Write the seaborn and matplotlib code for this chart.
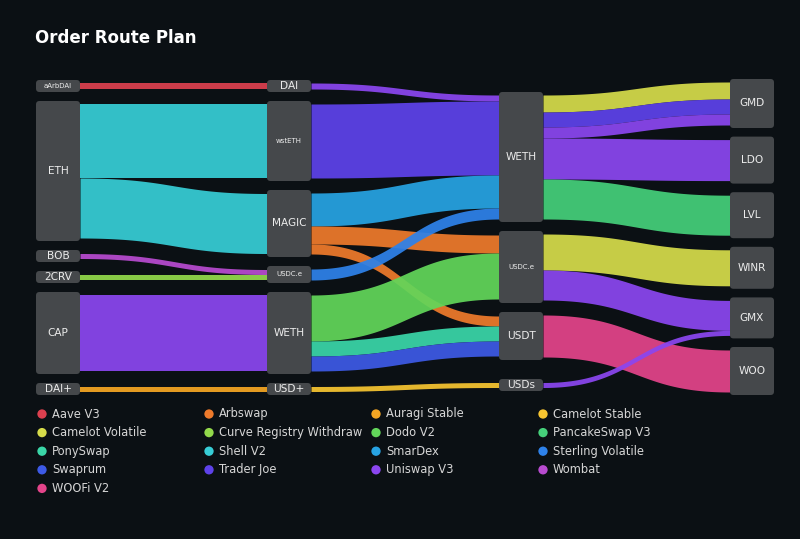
import numpy as np
import matplotlib.pyplot as plt
import seaborn as sns
from matplotlib.patches import FancyBboxPatch

# token nodes, one list per column (left to right)
col0_nodes = ['aArbDAI', 'ETH', 'BOB', '2CRV', 'CAP', 'DAI+']
col1_nodes = ['DAI', 'wstETH', 'MAGIC', 'USDC.e', 'WETH', 'USD+']
col2_nodes = ['WETH', 'USDC.e', 'USDT', 'USDs']
col3_nodes = ['GMD', 'LDO', 'LVL', 'WINR', 'GMX', 'WOO']

# route legs: column of the source, source token, target token (next column), size, dex
link_col = [0, 0, 0, 0, 0, 0, 0,
            1, 1, 1, 1, 1, 1, 1, 1, 1, 1,
            2, 2, 2, 2, 2, 2, 2, 2, 2]
link_src = ['aArbDAI', 'ETH', 'ETH', 'BOB', '2CRV', 'CAP', 'DAI+',
            'DAI', 'wstETH', 'MAGIC', 'MAGIC', 'MAGIC', 'USDC.e', 'WETH', 'WETH', 'WETH', 'USD+',
            'WETH', 'WETH', 'WETH', 'WETH', 'WETH', 'USDC.e', 'USDC.e', 'USDT', 'USDs']
link_dst = ['DAI', 'wstETH', 'MAGIC', 'USDC.e', 'USDC.e', 'WETH', 'USD+',
            'WETH', 'WETH', 'WETH', 'USDC.e', 'USDT', 'WETH', 'USDC.e', 'USDT', 'USDT', 'USDs',
            'GMD', 'GMD', 'GMD', 'LDO', 'LVL', 'WINR', 'GMX', 'WOO', 'GMX']
link_val = [6, 74, 60, 5, 5, 76, 5,
            6, 74, 33, 18, 10, 11, 46, 15, 15, 5,
            17, 15, 11, 41, 40, 36, 30, 42, 5]
link_dex = ['Aave V3', 'Shell V2', 'Shell V2', 'Wombat', 'Curve Registry Withdraw', 'Uniswap V3', 'Auragi Stable',
            'Uniswap V3', 'Trader Joe', 'SmarDex', 'Arbswap', 'Arbswap', 'Sterling Volatile', 'Dodo V2',
            'PonySwap', 'Swaprum', 'Camelot Stable',
            'Camelot Volatile', 'Trader Joe', 'Uniswap V3', 'Uniswap V3', 'PancakeSwap V3',
            'Camelot Volatile', 'Uniswap V3', 'WOOFi V2', 'Uniswap V3']

dex_names = ['Aave V3', 'Arbswap', 'Auragi Stable', 'Camelot Stable',
             'Camelot Volatile', 'Curve Registry Withdraw', 'Dodo V2', 'PancakeSwap V3',
             'PonySwap', 'Shell V2', 'SmarDex', 'Sterling Volatile',
             'Swaprum', 'Trader Joe', 'Uniswap V3', 'Wombat',
             'WOOFi V2']
dex_colors = ['#dc404f', '#ee7a2b', '#f5a623', '#f7c531',
              '#d6dc4a', '#93d94b', '#62d65a', '#45d07a',
              '#3ad6a8', '#37cdd6', '#27a3e3', '#2e82ea',
              '#3d5ae6', '#5e42ea', '#8b46f0', '#b84bd0',
              '#e4448a']

bg = '#0b1014'
node_color = '#45484b'
text_color = '#ececec'

sns.set_theme(style='dark', rc={'axes.facecolor': bg, 'figure.facecolor': bg})
plt.rcParams['font.family'] = ['DejaVu Sans']

# layout
cols = [col0_nodes, col1_nodes, col2_nodes, col3_nodes]
col_x = [36, 267, 499, 730]
node_w = 44
col_top = [80, 80, 92, 79]
col_bottom = [395, 395, 391, 395]
col_gap = [None, None, 9, None]   # None -> spread nodes over the column
pad = 3
min_h = 12
dex_color = dict(zip(dex_names, dex_colors))

flow_in, flow_out = {}, {}
for c, s, d, v in zip(link_col, link_src, link_dst, link_val):
    flow_out[(c, s)] = flow_out.get((c, s), 0) + v
    flow_in[(c + 1, d)] = flow_in.get((c + 1, d), 0) + v

node_y, node_h = {}, {}
for c, names in enumerate(cols):
    hs = [max(max(flow_in.get((c, n), 0), flow_out.get((c, n), 0)) + 2 * pad, min_h) for n in names]
    if col_gap[c] is None:
        gap = (col_bottom[c] - col_top[c] - sum(hs)) / (len(hs) - 1)
    else:
        gap = col_gap[c]
    y = col_top[c]
    for i, (n, h) in enumerate(zip(names, hs)):
        if i == len(names) - 1:
            y = col_bottom[c] - h
        node_y[(c, n)] = y
        node_h[(c, n)] = h
        y += h + gap

# stack the legs inside every node
n_links = len(link_val)
src_y, dst_y = {}, {}
for key in node_y:
    outs = [i for i in range(n_links) if (link_col[i], link_src[i]) == key]
    outs.sort(key=lambda i: (node_y[(link_col[i] + 1, link_dst[i])], i))
    y = node_y[key] + node_h[key] / 2 - sum(link_val[i] for i in outs) / 2
    for i in outs:
        src_y[i] = y
        y += link_val[i]
    ins = [i for i in range(n_links) if (link_col[i] + 1, link_dst[i]) == key]
    ins.sort(key=lambda i: (node_y[(link_col[i], link_src[i])], i))
    y = node_y[key] + node_h[key] / 2 - sum(link_val[i] for i in ins) / 2
    for i in ins:
        dst_y[i] = y
        y += link_val[i]

fig = plt.figure(figsize=(8, 5.39), dpi=100)
ax = fig.add_axes([0, 0, 1, 1])

t = np.linspace(0, 1, 120)
for i in range(n_links):
    c = link_col[i]
    x0, x1 = col_x[c] + node_w, col_x[c + 1]
    xm = (x0 + x1) / 2
    xs = (1 - t) ** 3 * x0 + 3 * (1 - t) ** 2 * t * xm + 3 * (1 - t) * t ** 2 * xm + t ** 3 * x1
    ys = src_y[i] + (dst_y[i] - src_y[i]) * (3 * t ** 2 - 2 * t ** 3)
    ax.fill_between(xs, ys, ys + link_val[i], color=dex_color[link_dex[i]],
                    alpha=0.93, linewidth=0, zorder=2)

for (c, n), y in node_y.items():
    h = node_h[(c, n)]
    ax.add_patch(FancyBboxPatch((col_x[c], y), node_w, h,
                                boxstyle='round,pad=0,rounding_size=3.5',
                                facecolor=node_color, edgecolor='none', zorder=3))
    fs = 5 if len(n) > 5 else 7.6
    ax.text(col_x[c] + node_w / 2, y + h / 2, n, color=text_color, fontsize=fs,
            ha='center', va='center', zorder=4)

# legend, 4 columns
leg_x = [42 + 167 * (k % 4) for k in range(len(dex_names))]
leg_y = [414 + 18.6 * (k // 4) for k in range(len(dex_names))]
sns.scatterplot(x=leg_x, y=leg_y, hue=dex_names, palette=dex_colors, s=45,
                linewidth=0, legend=False, ax=ax, zorder=5)
for lx, ly, name in zip(leg_x, leg_y, dex_names):
    ax.text(lx + 10, ly, name, color='#d6d6d6', fontsize=8.3, ha='left', va='center')

ax.text(35, 38, 'Order Route Plan', color='white', fontsize=12, fontweight='bold',
        ha='left', va='center')

ax.set_xlim(0, 800)
ax.set_ylim(539, 0)
ax.axis('off')
fig.savefig('out.png', dpi=100, facecolor=bg)
